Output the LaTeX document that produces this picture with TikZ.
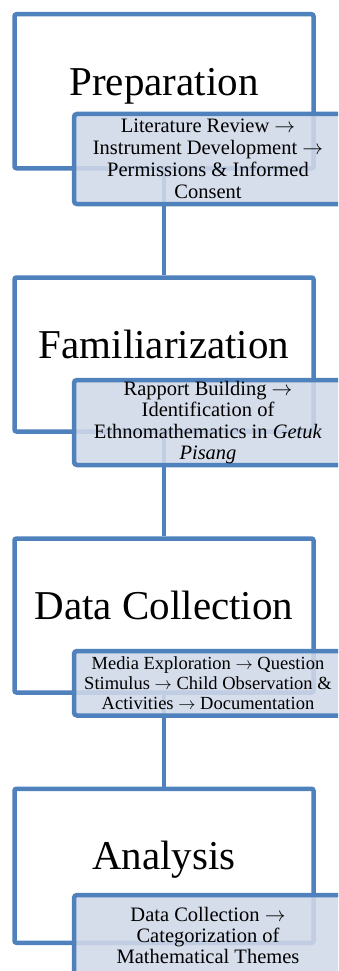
\documentclass[tikz,border=0pt]{standalone}
\usepackage{fontspec}
\setmainfont{Liberation Serif}
\usepackage{xcolor}
\usepackage{tikz}
\usetikzlibrary{calc}
\definecolor{edge}{HTML}{4F81BD}
\definecolor{tint}{HTML}{D0D8E8}
\newcommand{\nextarr}{\ensuremath{\rightarrow}}
\tikzset{
  stage/.style={draw=edge, fill=white, line width=4.5pt, rounded corners=2pt, minimum width=299pt, minimum height=154pt, inner sep=0pt},
  stagelab/.style={font=\fontsize{41}{49}\selectfont, inner sep=0pt, anchor=base},
  detail/.style={draw=edge, fill=tint, fill opacity=0.88, text opacity=1, line width=4.5pt, rounded corners=3pt, minimum width=268pt, inner sep=0pt, align=center, font=\fontsize{20.5}{22}\selectfont},
  link/.style={draw=edge, line width=4.5pt},
}

\begin{document}
\begin{tikzpicture}[x=1pt, y=-1pt]
  \useasboundingbox (0,0) rectangle (338,971);
  \clip (0,0) rectangle (338,971);
  % stages
  \node[stage] (prep) at (164,91.25) {};
  \node[stage] (fam) at (164,354.5) {};
  \node[stage] (coll) at (164,615.5) {};
  \node[stage] (anal) at (164,865.75) {};
  \node[stagelab] (prepT) at ([yshift=-4pt]prep.center) {Preparation};
  \node[stagelab] (famT) at ([yshift=-4pt]fam.center) {Familiarization};
  \node[stagelab] (collT) at ([yshift=-4pt]coll.center) {Data Collection};
  \node[stagelab] (analT) at ([yshift=-4pt]anal.center) {Analysis};
  % links
  \draw[link] (prep.south) -- (fam.north);
  \draw[link] (fam.south) -- (coll.north);
  \draw[link] (coll.south) -- (anal.north);
  % details
  \node[detail, minimum height=90pt] (prepD) at (208,159)
    {Literature Review \nextarr\\Instrument Development \nextarr\\Permissions \& Informed\\Consent};
  \node[detail, minimum height=85pt, font=\fontsize{20.5}{21.6}\selectfont] (famD) at (208,422.5)
    {Rapport Building \nextarr\\Identification of\\Ethnomathematics in \textit{Getuk}\\\textit{Pisang}};
  \node[detail, minimum height=64.5pt, font=\fontsize{18.5}{20}\selectfont] (collD) at (208,683.25)
    {Media Exploration \nextarr{} Question\\Stimulus \nextarr{} Child Observation \&\\Activities \nextarr{} Documentation};
  \node[detail, minimum height=80pt, font=\fontsize{20.5}{21}\selectfont] (analD) at (208,935)
    {Data Collection \nextarr\\Categorization of\\Mathematical Themes};
\end{tikzpicture}
\end{document}
